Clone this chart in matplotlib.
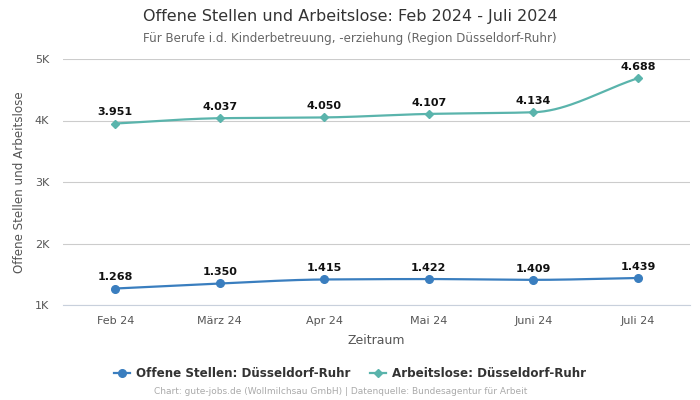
import matplotlib

matplotlib.use("Agg")
import matplotlib.pyplot as plt
import numpy as np

months = ["Feb 24", "März 24", "Apr 24", "Mai 24", "Juni 24", "Juli 24"]
offene_stellen = [1268, 1350, 1415, 1422, 1409, 1439]
arbeitslose = [3951, 4037, 4050, 4107, 4134, 4688]
y_ticks = [1000, 2000, 3000, 4000, 5000]
y_tick_labels = ["1K", "2K", "3K", "4K", "5K"]

BLUE = "#3a7ebf"
TEAL = "#5ab4ac"


def monotone_curve(x, y, n=40):
    """Monotone cubic (Fritsch-Carlson) path through the points, for drawing only."""
    x = np.asarray(x, float)
    y = np.asarray(y, float)
    h = np.diff(x)
    d = np.diff(y) / h
    m = np.zeros_like(y)
    m[0], m[-1] = d[0], d[-1]
    for i in range(1, len(y) - 1):
        if d[i - 1] * d[i] <= 0:
            m[i] = 0
        else:
            w1 = 2 * h[i] + h[i - 1]
            w2 = h[i] + 2 * h[i - 1]
            m[i] = (w1 + w2) / (w1 / d[i - 1] + w2 / d[i])
    xs, ys = [], []
    for i in range(len(x) - 1):
        t = np.linspace(0, 1, n)
        h00 = 2 * t**3 - 3 * t**2 + 1
        h10 = t**3 - 2 * t**2 + t
        h01 = -2 * t**3 + 3 * t**2
        h11 = t**3 - t**2
        xs.append(x[i] + t * h[i])
        ys.append(h00 * y[i] + h10 * h[i] * m[i] + h01 * y[i + 1] + h11 * h[i] * m[i + 1])
    return np.concatenate(xs), np.concatenate(ys)


fig = plt.figure(figsize=(7, 4), dpi=100)
ax = fig.add_axes([0.09, 0.2375, 0.896, 0.615])

x = np.arange(len(months))
series = [
    (offene_stellen, BLUE, "o", 5.5, "Offene Stellen: Düsseldorf-Ruhr"),
    (arbeitslose, TEAL, "D", 4, "Arbeitslose: Düsseldorf-Ruhr"),
]
for values, color, marker, msize, label in series:
    cx, cy = monotone_curve(x, values)
    ax.plot(cx, cy, color=color, linewidth=1.6, zorder=3)
    ax.plot(x, values, linestyle="none", marker=marker, markersize=msize, color=color, zorder=4)
    ax.plot([], [], color=color, marker=marker, markersize=msize, linewidth=1.6, label=label)
    for xi, v in zip(x, values):
        ax.annotate(f"{v:,}".replace(",", "."), (xi, v), xytext=(0, 4.5), textcoords="offset points",
                    ha="center", va="bottom", fontsize=8, fontweight="bold", color="#111111")

ax.set_xlim(-0.5, len(months) - 0.5)
ax.set_ylim(1000, 5000)
ax.set_yticks(y_ticks)
ax.set_yticklabels(y_tick_labels)
ax.set_xticks(x)
ax.set_xticklabels(months)
ax.tick_params(axis="both", length=0, labelsize=8, labelcolor="#555555")
ax.tick_params(axis="x", pad=8)
ax.tick_params(axis="y", pad=10)
ax.grid(axis="y", color="#cccccc", linewidth=0.8)
ax.set_axisbelow(True)
for side in ["top", "right", "left"]:
    ax.spines[side].set_visible(False)
ax.spines["bottom"].set_color("#c8d0dc")

ax.set_xlabel("Zeitraum", fontsize=9, color="#555555", labelpad=6)
ax.set_ylabel("Offene Stellen und Arbeitslose", fontsize=8.6, color="#555555", labelpad=6)

fig.text(0.5, 0.958, "Offene Stellen und Arbeitslose: Feb 2024 - Juli 2024",
         ha="center", va="center", fontsize=11.5, color="#333333")
fig.text(0.5, 0.903, "Für Berufe i.d. Kinderbetreuung, -erziehung (Region Düsseldorf-Ruhr)",
         ha="center", va="center", fontsize=8.6, color="#666666")

fig.legend(loc="center", bbox_to_anchor=(0.5, 0.066), ncol=2, frameon=False,
           prop={"size": 8.6, "weight": "bold"}, labelcolor="#333333",
           handlelength=1.4, handletextpad=0.5, columnspacing=1.6)
fig.text(0.486, 0.02, "Chart: gute-jobs.de (Wollmilchsau GmbH) | Datenquelle: Bundesagentur für Arbeit",
         ha="center", va="center", fontsize=6.5, color="#aaaaaa")

fig.savefig("out.png", dpi=100)
